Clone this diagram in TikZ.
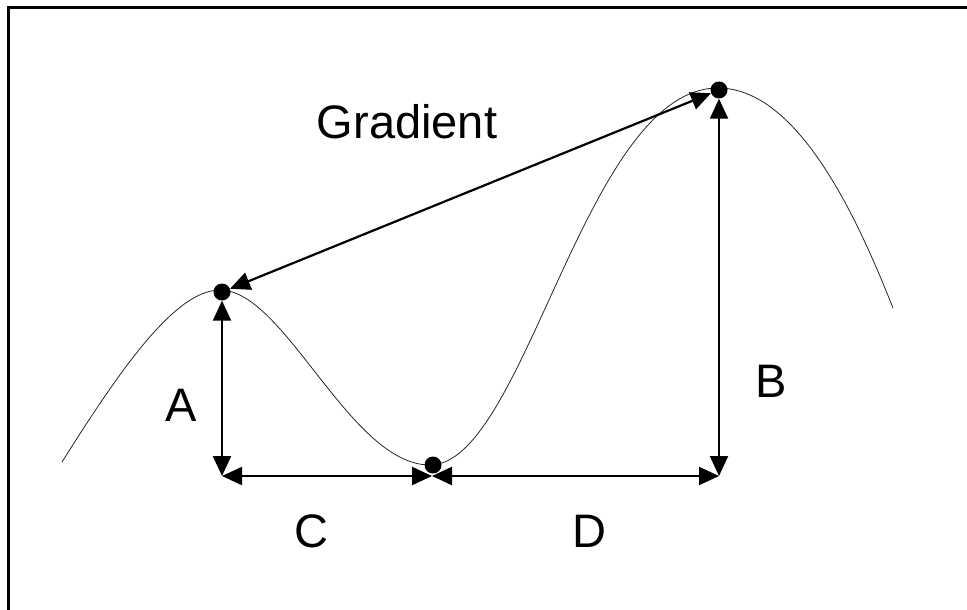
\documentclass[tikz,border=0pt]{standalone}
\usepackage{fontspec}
\setmainfont{Liberation Sans}
\usetikzlibrary{arrows.meta}
\begin{document}
\begin{tikzpicture}[x=1pt,y=-1pt,
  dot/.style={circle,fill=black,inner sep=0pt,minimum size=17pt},
  dbl/.style={line width=2.2pt,{Triangle[length=20pt,width=18pt]}-{Triangle[length=20pt,width=18pt]}},
  curve/.style={line width=0.8pt,black!85},
  lbl/.style={font=\fontsize{47}{56}\selectfont,anchor=base,inner sep=0pt}]
\useasboundingbox (0,0) rectangle (967,610);
\draw[line width=3pt] (967,8) -- (8,8) -- (8,610);
% curve
\draw[curve] (62,462) .. controls (120,370) and (175,290) .. (220,290)
  .. controls (285,290) and (350,465) .. (430,465)
  .. controls (525,465) and (585,88) .. (718,88)
  .. controls (800,88) and (860,225) .. (893,308);
% dots
\node[dot] (p1) at (222,292) {};
\node[dot] (p2) at (433,465) {};
\node[dot] (p3) at (719,90) {};
\coordinate (cA) at (222,476);
\coordinate (cM) at (432,476);
\coordinate (cB) at (719,476);
% arrows
\draw[dbl] (cA) -- (p1);
\draw[dbl] (cA) -- (cM);
\draw[dbl] (cM) -- (cB);
\draw[dbl] (cB) -- (p3);
\draw[dbl] (p3) -- (p1);
% labels
\node[lbl] (tg) at (407,138) {Gradient};
\node[lbl] (ta) at (181,421) {A};
\node[lbl] (tb) at (771,397) {B};
\node[lbl] (tc) at (311,547) {C};
\node[lbl] (td) at (589,547) {D};
\end{tikzpicture}
\end{document}
